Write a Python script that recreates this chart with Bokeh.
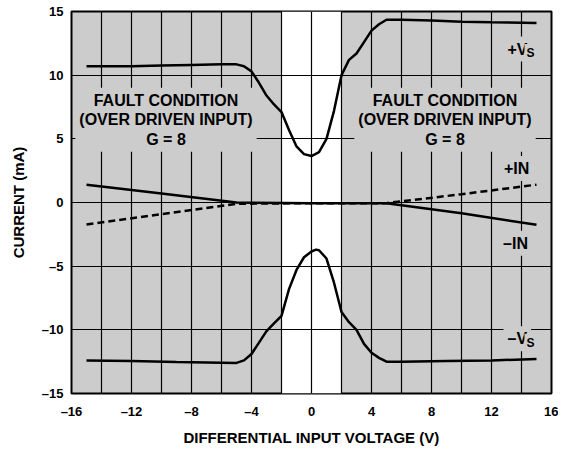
import numpy as np
from bokeh.plotting import figure
from bokeh.models import FixedTicker, Range1d
from bokeh.core.properties import value
from bokeh.embed import file_html
from bokeh.resources import INLINE

# ---- data ----
vs_pos_v = [-15, -12, -10, -8, -6, -5, -4.5, -4, -3.5, -3, -2.5, -2, -1.5, -1, -0.5, 0, 0.5, 1, 1.5, 2, 2.5, 3, 3.5, 4, 4.5, 5, 6, 8, 10, 12, 15]
vs_pos_i = [10.7, 10.7, 10.75, 10.8, 10.85, 10.85, 10.7, 10.3, 9.4, 8.4, 7.7, 7.1, 5.7, 4.4, 3.8, 3.65, 3.95, 5.0, 7.2, 10.0, 11.2, 11.7, 12.6, 13.5, 14.0, 14.35, 14.35, 14.3, 14.2, 14.15, 14.1]

vs_neg_v = [-15, -12, -9, -6, -5, -4.5, -4, -3.5, -3, -2.5, -2, -1.5, -1, -0.5, 0, 0.3, 0.5, 1, 1.5, 2, 2.5, 3, 3.5, 4, 4.5, 5, 6, 9, 12, 15]
vs_neg_i = [-12.4, -12.45, -12.52, -12.58, -12.6, -12.4, -11.9, -11.0, -10.1, -9.5, -8.9, -6.8, -5.3, -4.3, -3.85, -3.7, -3.75, -4.4, -6.3, -8.6, -9.4, -10.0, -11.1, -11.8, -12.2, -12.5, -12.5, -12.45, -12.4, -12.3]

in_pos_v = [-15, -10, -5, 0, 5, 10, 15]
in_pos_i = [-1.72, -0.92, -0.1, -0.05, -0.05, 0.65, 1.4]

in_neg_v = [-15, -10, -5, 0, 5, 10, 15]
in_neg_i = [1.4, 0.7, 0.0, -0.05, -0.05, -0.85, -1.75]

band_left = [-2]
band_right = [2]

x_ticks = [-16, -12, -8, -4, 0, 4, 8, 12, 16]
x_tick_labels = ["\u201316", "\u201312", "\u20138", "\u20134", "0", "4", "8", "12", "16"]
y_ticks = [-15, -10, -5, 0, 5, 10, 15]
y_tick_labels = ["\u201315", "\u201310", "\u20135", "0", "5", "10", "15"]
x_grid = [-14, -12, -10, -8, -6, -4, -2, 0, 2, 4, 6, 8, 10, 12, 14]
y_grid = [-10, -5, 0, 5, 10]

fault_text = "FAULT CONDITION\n(OVER DRIVEN INPUT)\nG = 8"
fault_x = [-9.7, 8.9]
fault_y = [6.5, 6.5]

GRAY = "#CCCCCC"
FONT = value("Liberation Sans")

p = figure(width=558, height=450, x_range=Range1d(-16, 16), y_range=Range1d(-15, 15),
           output_backend="svg", toolbar_location=None,
           min_border_left=71, min_border_right=7, min_border_top=11, min_border_bottom=57)
p.background_fill_color = GRAY
p.border_fill_color = "white"
p.outline_line_color = "black"
p.outline_line_width = 2

# white band
p.quad(left=band_left, right=band_right, bottom=[-15], top=[15],
       fill_color="white", line_color=None, level="image")

# grid
p.xgrid.ticker = FixedTicker(ticks=x_grid)
p.ygrid.ticker = FixedTicker(ticks=y_grid)
for g in (p.xgrid, p.ygrid):
    g.grid_line_color = "black"
    g.grid_line_width = 1.2
    g.grid_line_alpha = 1.0

# axes
p.xaxis.ticker = FixedTicker(ticks=x_ticks)
p.yaxis.ticker = FixedTicker(ticks=y_ticks)
p.xaxis.major_label_overrides = {t: l for t, l in zip(x_ticks, x_tick_labels)}
p.yaxis.major_label_overrides = {t: l for t, l in zip(y_ticks, y_tick_labels)}
for ax in (p.xaxis, p.yaxis):
    ax.major_tick_line_color = None
    ax.minor_tick_line_color = None
    ax.major_tick_out = 0
    ax.major_tick_in = 0
    ax.minor_tick_out = 0
    ax.minor_tick_in = 0
    ax.axis_line_color = None
    ax.major_label_text_font = "Liberation Sans"
    ax.major_label_text_font_style = "bold"
    ax.major_label_text_font_size = "13px"
    ax.major_label_text_color = "black"
    ax.axis_label_text_font = "Liberation Sans"
    ax.axis_label_text_font_style = "bold"
    ax.axis_label_text_font_size = "15px"
    ax.axis_label_text_color = "black"
p.xaxis.major_label_standoff = 10
p.yaxis.major_label_standoff = 8
p.xaxis.axis_label = "DIFFERENTIAL INPUT VOLTAGE (V)"
p.yaxis.axis_label = "CURRENT (mA)"
p.xaxis.axis_label_standoff = 7
p.yaxis.axis_label_standoff = 12

# labels with gray boxes (cut the grid)
p.text(x=fault_x, y=fault_y, text=[fault_text, fault_text],
       text_font=FONT, text_font_style="bold", text_font_size="16px",
       text_align="center", text_baseline="middle", text_line_height=1.15,
       background_fill_color=GRAY, padding=4)

p.text(x=[13.67, 13.6], y=[2.67, -3.2], text=["+IN", "\u2013IN"],
       text_font=FONT, text_font_style="bold", text_font_size="16px",
       text_align="center", text_baseline="middle",
       background_fill_color=GRAY, padding=4)

p.text(x=[12.8, 12.8], y=[12.05, -10.7], text=["+V", "\u2013V"],
       text_font=FONT, text_font_style="bold", text_font_size="16px",
       text_align="left", text_baseline="middle",
       background_fill_color=GRAY, padding=4)
p.text(x=[12.8, 12.8], y=[12.05, -10.7], text=["S", "S"],
       text_font=FONT, text_font_style="bold", text_font_size="12px",
       text_align="left", text_baseline="middle", x_offset=21, y_offset=4,
       background_fill_color=GRAY, padding=2)

# curves
p.line(vs_pos_v, vs_pos_i, line_color="black", line_width=2.5)
p.line(vs_neg_v, vs_neg_i, line_color="black", line_width=2.5)
p.line(in_neg_v, in_neg_i, line_color="black", line_width=2.5)
p.line(in_pos_v, in_pos_i, line_color="black", line_width=2.5, line_dash="7 4")

open("out.html", "w").write(file_html(p, INLINE))
